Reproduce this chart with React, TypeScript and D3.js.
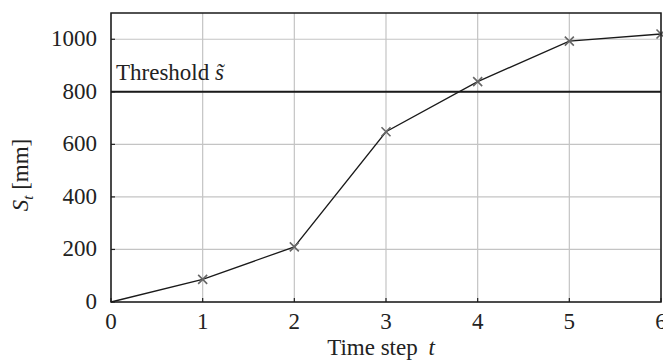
import React from "react";
import * as d3 from "d3";

const timeSteps = [0, 1, 2, 3, 4, 5, 6];
const storage = [0, 86, 210, 648, 839, 993, 1020];
const xTicks = [0, 1, 2, 3, 4, 5, 6];
const yTicks = [0, 200, 400, 600, 800, 1000];
const threshold = 800;

const W = 663;
const H = 363;
const M = { left: 111, right: 2, top: 13, bottom: 61 };

export default function App() {
  const x = d3.scaleLinear().domain([0, 6]).range([M.left, W - M.right]);
  const y = d3.scaleLinear().domain([0, 1100]).range([H - M.bottom, M.top]);
  const line = d3
    .line<number>()
    .x((_, i) => x(timeSteps[i]))
    .y((d) => y(d));
  const font = "Liberation Serif, Times New Roman, Times, serif";
  const x0 = M.left, x1 = W - M.right, y0 = H - M.bottom, y1 = M.top;
  const ms = 4.5;
  const ts = { fontFamily: font };
  const fs = 23;
  return (
    <svg
      width={W}
      height={H}
      style={{ position: "absolute", left: 0, top: 0, background: "#fff", fontFamily: font }}
    >
      {xTicks.map((t) => (
        <line key={"gx" + t} x1={x(t)} x2={x(t)} y1={y1} y2={y0} stroke="#c4c4c4" strokeWidth={1.2} />
      ))}
      {yTicks.map((t) => (
        <line key={"gy" + t} x1={x0} x2={x1} y1={y(t)} y2={y(t)} stroke="#c4c4c4" strokeWidth={1.2} />
      ))}
      {xTicks.map((t) => (
        <line key={"tx" + t} x1={x(t)} x2={x(t)} y1={y0} y2={y0 - 4} stroke="#222" strokeWidth={1.2} />
      ))}
      {yTicks.map((t) => (
        <line key={"ty" + t} x1={x0} x2={x0 + 4} y1={y(t)} y2={y(t)} stroke="#222" strokeWidth={1.2} />
      ))}
      <line x1={x0} x2={x1} y1={y(threshold)} y2={y(threshold)} stroke="#1a1a1a" strokeWidth={2} />
      <text x={116} y={80} fontSize={fs} fill="#222" style={ts}>
        Threshold <tspan fontStyle="italic">s̃</tspan>
      </text>
      <path d={line(storage) || ""} fill="none" stroke="#1a1a1a" strokeWidth={1.3} />
      {storage.slice(1).map((v, i) => {
        const cx = x(timeSteps[i + 1]);
        const cy = y(v);
        return (
          <path
            key={"m" + i}
            d={`M${cx - ms},${cy - ms}L${cx + ms},${cy + ms}M${cx - ms},${cy + ms}L${cx + ms},${cy - ms}`}
            stroke="#666"
            strokeWidth={1.6}
            fill="none"
          />
        );
      })}
      <rect x={x0} y={y1} width={x1 - x0} height={y0 - y1} fill="none" stroke="#1a1a1a" strokeWidth={1.5} />
      {xTicks.map((t) => (
        <text key={"lx" + t} x={x(t)} y={329} textAnchor="middle" fontSize={fs} fill="#222" style={ts}>
          {t}
        </text>
      ))}
      {yTicks.map((t) => (
        <text key={"ly" + t} x={97} y={y(t) + 7} textAnchor="end" fontSize={fs} fill="#222" style={ts}>
          {t}
        </text>
      ))}
      <text x={381} y={355} textAnchor="middle" fontSize={fs} fill="#222" style={ts}>
        Time step <tspan fontStyle="italic" dx={5}>t</tspan>
      </text>
      <text transform="translate(28,175) rotate(-90)" textAnchor="middle" fontSize={fs} fill="#222" style={ts}>
        <tspan fontStyle="italic">S</tspan>
        <tspan fontStyle="italic" fontSize={15} dy={5}>t</tspan>
        <tspan dy={-5}> [mm]</tspan>
      </text>
    </svg>
  );
}
